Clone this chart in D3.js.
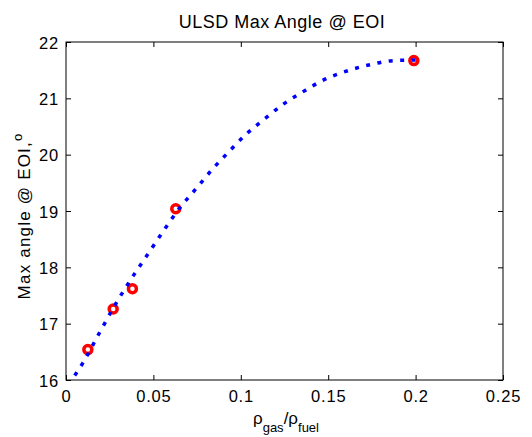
<!DOCTYPE html>
<html>
<head>
<meta charset="utf-8">
<script src="https://cdn.jsdelivr.net/npm/d3@7"></script>
<style>
  html, body { margin: 0; padding: 0; background: #fff; }
  svg { display: block; font-family: "Liberation Sans", Arial, Helvetica, sans-serif; }
</style>
</head>
<body>
<svg id="chart" width="532" height="437"></svg>
<script>
// Measured samples: density ratio vs. maximum spray angle at end of injection
const densityRatio = [0.0125, 0.027, 0.038, 0.0628, 0.199];
const maxAngle = [16.54, 17.26, 17.62, 19.04, 21.67];

// Fitted trend curve (read at points along the curve)
const fitRatio = [0.005, 0.0096, 0.019, 0.0286, 0.0389, 0.0465, 0.0576, 0.0652, 0.0748,
                  0.0837, 0.0931, 0.103, 0.1134, 0.124, 0.1352, 0.1469, 0.1612, 0.1743,
                  0.1873, 0.2005];
const fitAngle = [16.08, 16.30, 16.83, 17.36, 17.87, 18.22, 18.73, 19.06, 19.41,
                  19.74, 20.05, 20.36, 20.63, 20.89, 21.11, 21.32, 21.49, 21.60,
                  21.67, 21.68];

const xTicks = [0, 0.05, 0.1, 0.15, 0.2, 0.25];
const yTicks = [16, 17, 18, 19, 20, 21, 22];

const svg = d3.select("#chart");
const m = { left: 66, top: 42, width: 437, height: 338 };

const x = d3.scaleLinear().domain([0, 0.25]).range([0, m.width]);
const y = d3.scaleLinear().domain([16, 22]).range([m.height, 0]);

const g = svg.append("g").attr("transform", `translate(${m.left},${m.top})`);

// Axes with inward ticks on all four sides
const tickFmt = d => String(d);
const axBottom = g.append("g").attr("transform", `translate(0,${m.height})`)
  .call(d3.axisBottom(x).tickValues(xTicks).tickFormat(tickFmt).tickSizeInner(-5).tickSizeOuter(0));
const axTop = g.append("g")
  .call(d3.axisTop(x).tickValues(xTicks).tickFormat("").tickSizeInner(-5).tickSizeOuter(0));
const axLeft = g.append("g")
  .call(d3.axisLeft(y).tickValues(yTicks).tickFormat(tickFmt).tickSizeInner(-5).tickSizeOuter(0));
const axRight = g.append("g").attr("transform", `translate(${m.width},0)`)
  .call(d3.axisRight(y).tickValues(yTicks).tickFormat("").tickSizeInner(-5).tickSizeOuter(0));

[axBottom, axTop, axLeft, axRight].forEach(a => {
  a.select(".domain").remove();
  a.selectAll(".tick line").attr("stroke", "#000").attr("stroke-width", 1);
});

axBottom.selectAll(".tick text")
  .attr("y", 21.7).attr("dy", null)
  .attr("font-size", 16.5).attr("letter-spacing", 0.8).attr("fill", "#000");
axLeft.selectAll(".tick text")
  .attr("x", -7).attr("dy", "0.38em")
  .attr("font-size", 16.5).attr("letter-spacing", 0.8).attr("fill", "#000");

// Plot box
g.append("rect")
  .attr("x", 0).attr("y", 0).attr("width", m.width).attr("height", m.height)
  .attr("fill", "none").attr("stroke", "#000").attr("stroke-width", 1);

// Measured points
g.selectAll("circle.pt")
  .data(densityRatio.map((d, i) => [d, maxAngle[i]]))
  .join("circle")
  .attr("class", "pt")
  .attr("cx", d => x(d[0])).attr("cy", d => y(d[1]))
  .attr("r", 4)
  .attr("fill", "none").attr("stroke", "#ff0000").attr("stroke-width", 3.5);

// Dotted fit curve
const line = d3.line().x(d => x(d[0])).y(d => y(d[1])).curve(d3.curveMonotoneX);
g.append("path")
  .datum(fitRatio.map((d, i) => [d, fitAngle[i]]))
  .attr("d", line)
  .attr("fill", "none").attr("stroke", "#0000ff").attr("stroke-width", 3.5)
  .attr("stroke-dasharray", "4,7.5");

// Title
svg.append("text")
  .attr("x", 282).attr("y", 27.5).attr("text-anchor", "middle")
  .attr("font-size", 18).attr("letter-spacing", 0.5).attr("fill", "#000")
  .text("ULSD Max Angle @ EOI");

// Y-axis label with superscript degree mark
const yl = svg.append("text")
  .attr("transform", "translate(30,216) rotate(-90)")
  .attr("text-anchor", "middle")
  .attr("font-size", 17).attr("letter-spacing", 1.2).attr("fill", "#000");
yl.append("tspan").text("Max angle @ EOI,");
yl.append("tspan").attr("dy", -8).attr("font-size", 13).text("o");

// X-axis label: rho_gas / rho_fuel
const xl = svg.append("text")
  .attr("x", 286).attr("y", 424).attr("text-anchor", "middle")
  .attr("font-size", 17).attr("fill", "#000");
xl.append("tspan").text("ρ");
xl.append("tspan").attr("dy", 8).attr("font-size", 13).text("gas");
xl.append("tspan").attr("dy", -8).text("/ρ");
xl.append("tspan").attr("dy", 8).attr("font-size", 13).text("fuel");
</script>
</body>
</html>
